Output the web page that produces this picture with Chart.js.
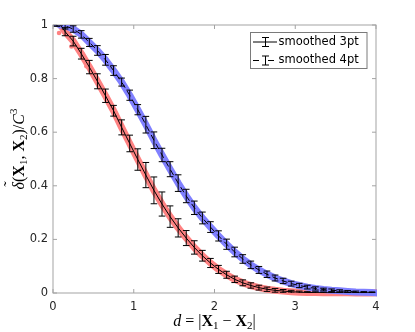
<!DOCTYPE html>
<html><head><meta charset="utf-8">
<script src="https://cdn.jsdelivr.net/npm/chart.js@4.4.0/dist/chart.umd.min.js"></script>
<style>html,body{margin:0;padding:0;background:#fff;} #c{display:block;}</style>
</head><body>
<canvas id="c" width="415" height="332" style="width:415px;height:332px"></canvas>
<script>
// ---- data ----
const binCenters = [0.05,0.15,0.25,0.35,0.45,0.55,0.65,0.75,0.85,0.95,1.05,1.15,1.25,1.35,1.45,1.55,1.65,1.75,1.85,1.95,2.05,2.15,2.25,2.35,2.45,2.55,2.65,2.75,2.85,2.95,3.05,3.15,3.25,3.35,3.45,3.55,3.65,3.75,3.85,3.95];
const redValues = [1.02,0.975,0.940,0.893,0.843,0.790,0.736,0.680,0.618,0.558,0.498,0.440,0.383,0.332,0.285,0.243,0.205,0.170,0.139,0.112,0.088,0.068,0.051,0.038,0.028,0.020,0.014,0.010,0.007,0.005,0.003,0.002,0.0015,0.001,0.001,0.0008,0.0006,0.0004,0.0003,0.0002];
const redErrors = [0.02,0.015,0.018,0.02,0.025,0.028,0.025,0.02,0.028,0.031,0.04,0.047,0.05,0.045,0.04,0.034,0.028,0.025,0.02,0.017,0.015,0.013,0.012,0.011,0.01,0.009,0.008,0.007,0.006,0.005,0.004,0.003,0.003,0.002,0.002,0.002,0.001,0.001,0.001,0.001];
const blueValues = [1.005,0.997,0.985,0.965,0.935,0.905,0.870,0.830,0.787,0.738,0.684,0.628,0.570,0.515,0.462,0.410,0.362,0.318,0.280,0.246,0.213,0.182,0.153,0.127,0.105,0.086,0.070,0.056,0.045,0.035,0.028,0.022,0.017,0.013,0.010,0.008,0.006,0.004,0.003,0.002];
const blueErrors = [0.01,0.012,0.012,0.014,0.015,0.018,0.02,0.018,0.015,0.019,0.019,0.031,0.031,0.025,0.028,0.031,0.025,0.025,0.022,0.02,0.019,0.019,0.018,0.016,0.014,0.013,0.012,0.011,0.01,0.009,0.008,0.007,0.006,0.005,0.005,0.004,0.003,0.003,0.002,0.002];
const bandEnd = {x: 4.0, y: 0.0005};
const redOutliersX = [0.075,0.228,0.414,0.52];
const redOutliersY = [0.970,0.920,0.846,0.800];
const blueOutliersX = [0.083];
const blueOutliersY = [0.995];
const xTicks = [0,1,2,3,4];
const xTickLabels = ['0','1','2','3','4'];
const yTicks = [0,0.2,0.4,0.6,0.8,1];
const yTickLabels = ['0','0.2','0.4','0.6','0.8','1'];
const legendLabels = ['smoothed 3pt','smoothed 4pt'];

const pts = (xs, ys) => xs.map((x,i)=>({x, y: ys[i]}));
const RED = 'rgb(255,130,130)';
const BLUE = 'rgb(128,128,255)';
const SANS = '"DejaVu Sans"';
const SERIF = '"Liberation Serif"';

const framePlugin = {
  id: 'frame',
  beforeDatasetsDraw(chart){
    const {ctx, chartArea:a, scales:{x,y}} = chart;
    ctx.save();
    ctx.strokeStyle = '#a3a3a3'; ctx.lineWidth = 1;
    ctx.strokeRect(a.left, a.top, a.right-a.left, a.bottom-a.top);
    ctx.beginPath();
    xTicks.forEach(v=>{ const p = x.getPixelForValue(v);
      ctx.moveTo(p, a.bottom); ctx.lineTo(p, a.bottom-4);
      ctx.moveTo(p, a.top); ctx.lineTo(p, a.top+4); });
    yTicks.forEach(v=>{ const p = y.getPixelForValue(v);
      ctx.moveTo(a.left, p); ctx.lineTo(a.left+4, p);
      ctx.moveTo(a.right, p); ctx.lineTo(a.right-4, p); });
    ctx.stroke();
    ctx.restore();
  }
};

const errorBarPlugin = {
  id: 'errbars',
  afterDatasetsDraw(chart){
    const {ctx, chartArea:a, scales:{x,y}} = chart;
    ctx.save();
    ctx.beginPath(); ctx.rect(a.left, a.top, a.right-a.left, a.bottom-a.top); ctx.clip();
    ctx.strokeStyle = '#000'; ctx.lineWidth = 1;
    chart.data.datasets.forEach(ds=>{
      if(!ds.errors) return;
      ds.data.forEach((p,i)=>{
        const e = ds.errors[i];
        const px = x.getPixelForValue(p.x);
        const y1 = y.getPixelForValue(p.y - e), y2 = y.getPixelForValue(p.y + e);
        ctx.beginPath();
        ctx.moveTo(px, y1); ctx.lineTo(px, y2);
        ctx.moveTo(px-3.3, y1); ctx.lineTo(px+3.3, y1);
        ctx.moveTo(px-3.3, y2); ctx.lineTo(px+3.3, y2);
        ctx.stroke();
      });
    });
    ctx.restore();
  }
};

function drawSegs(ctx, segs, cx, baseY){
  let total = 0;
  segs.forEach(s=>{ ctx.font = s.f; s.w = ctx.measureText(s.t).width; total += s.w; });
  let xx = cx - total/2;
  segs.forEach(s=>{
    ctx.font = s.f; ctx.fillText(s.t, xx, baseY + (s.dy||0));
    if (s.tilde){ ctx.font = `16px ${SERIF}`; ctx.textAlign='center'; ctx.fillText('\u02DC', xx + s.w/2 + 1.5, baseY - 9); ctx.textAlign='left'; }
    xx += s.w;
  });
}

const textPlugin = {
  id: 'texts',
  afterDraw(chart){
    const {ctx, chartArea:a} = chart;
    ctx.save();
    ctx.fillStyle = '#000'; ctx.textAlign = 'left'; ctx.textBaseline = 'alphabetic';
    const R = `16px ${SERIF}`, B = `bold 16px ${SERIF}`, I = `italic 16px ${SERIF}`, S = `11px ${SERIF}`;
    drawSegs(ctx, [
      {t:'d', f:I}, {t:' = ', f:R}, {t:'|', f:R}, {t:'X', f:B}, {t:'1', f:S, dy:3},
      {t:' \u2212 ', f:R}, {t:'X', f:B}, {t:'2', f:S, dy:3}, {t:'|', f:R}
    ], (a.left+a.right)/2, 326);
    ctx.save();
    ctx.translate(24, 149);
    ctx.rotate(-Math.PI/2);
    drawSegs(ctx, [
      {t:'\u03B4', f:I, tilde:true}, {t:'(', f:R}, {t:'X', f:B}, {t:'1', f:S, dy:3}, {t:', ', f:R},
      {t:'X', f:B}, {t:'2', f:S, dy:3}, {t:')', f:R}, {t:'/', f:R}, {t:'C', f:I}, {t:'3', f:S, dy:-7}
    ], 0, 0);
    ctx.restore();
    // legend
    const lx = 250, ly = 32.5, lw = 116.5, lh = 36;
    ctx.fillStyle = '#fff'; ctx.fillRect(lx, ly, lw, lh);
    ctx.strokeStyle = '#7a7a7a'; ctx.lineWidth = 1; ctx.strokeRect(lx+0.5, ly, lw, lh);
    ctx.strokeStyle = '#000';
    const rows = [42, 60.5];
    rows.forEach((ry, i)=>{
      ctx.beginPath();
      if (i===0){ ctx.moveTo(253, ry); ctx.lineTo(277, ry); }
      else { ctx.setLineDash([6,9]); ctx.moveTo(253, ry); ctx.lineTo(275, ry); }
      ctx.stroke(); ctx.setLineDash([]);
      ctx.beginPath();
      ctx.moveTo(265.5, ry-4.5); ctx.lineTo(265.5, ry+4.5);
      ctx.moveTo(262, ry-4.5); ctx.lineTo(269, ry-4.5);
      ctx.moveTo(262, ry+4.5); ctx.lineTo(269, ry+4.5);
      ctx.stroke();
      ctx.fillStyle = '#000'; ctx.font = `11.5px ${SANS}`; ctx.textBaseline = 'middle';
      ctx.fillText(legendLabels[i], 278.5, ry);
    });
    ctx.restore();
  }
};

const redPts = pts(binCenters, redValues);
const bluePts = pts(binCenters, blueValues);

new Chart(document.getElementById('c'), {
  type: 'line',
  data: { datasets: [
    { label:'red raw', data: redPts.concat([bandEnd]), borderColor: RED, borderWidth: 7,
      borderCapStyle:'round', borderJoinStyle:'round', pointRadius:0, order:6, clip:{left:6,top:0,right:1,bottom:6} },
    { label:'blue raw', data: bluePts.concat([bandEnd]), borderColor: BLUE, borderWidth: 7,
      borderCapStyle:'round', borderJoinStyle:'round', pointRadius:0, order:5, clip:{left:6,top:0,right:1,bottom:6} },
    { type:'scatter', label:'red pts', data: pts(redOutliersX, redOutliersY), backgroundColor: RED, borderWidth:0, pointRadius:2.3, order:4 },
    { type:'scatter', label:'blue pts', data: pts(blueOutliersX, blueOutliersY), backgroundColor: BLUE, borderWidth:0, pointRadius:2.3, order:3 },
    { label: legendLabels[0], data: redPts, errors: redErrors, borderColor:'#000', borderWidth:1, pointRadius:0, order:2 },
    { label: legendLabels[1], data: bluePts, errors: blueErrors, borderColor:'#000', borderWidth:1, borderDash:[6,4], pointRadius:0, order:1 }
  ]},
  options: {
    responsive:false, animation:false, events:[],
    layout:{ padding:{ left:0, right:39, top:25, bottom:0 } },
    scales: {
      x: { type:'linear', min:0, max:4,
        afterFit(s){ s.height = 39; },
        afterBuildTicks(s){ s.ticks = xTicks.map(v=>({value:v})); },
        grid:{ display:false, drawTicks:false }, border:{ display:false },
        ticks:{ padding:7, color:'#262626', font:{ family:'DejaVu Sans', size:11.5 }, maxRotation:0,
          callback:(v,i)=>xTickLabels[i] } },
      y: { type:'linear', min:0, max:1,
        afterFit(s){ s.width = 53; },
        afterBuildTicks(s){ s.ticks = yTicks.map(v=>({value:v})); },
        grid:{ display:false, drawTicks:false }, border:{ display:false },
        ticks:{ padding:5, color:'#262626', font:{ family:'DejaVu Sans', size:11.5 },
          callback:(v,i)=>yTickLabels[i] } }
    },
    plugins:{ legend:{ display:false }, tooltip:{ enabled:false } }
  },
  plugins:[framePlugin, errorBarPlugin, textPlugin]
});
</script>
</body></html>
